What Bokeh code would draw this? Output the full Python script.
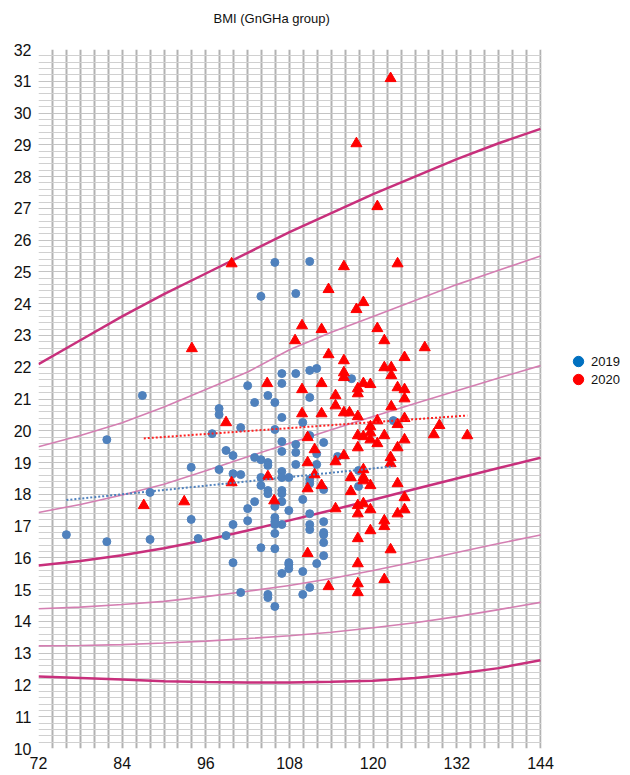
from bokeh.plotting import figure
from bokeh.models import Legend, LegendItem, FixedTicker, Range1d, BoxAnnotation, Title
from bokeh.embed import file_html
from bokeh.resources import INLINE

# reference curves (age in months, BMI)
curve_age = [72, 78, 84, 90, 96, 102, 108, 114, 120, 126, 132, 138, 144]
c_p1 = [22.1, 22.85, 23.6, 24.3, 24.95, 25.6, 26.25, 26.85, 27.45, 28.0, 28.55, 29.05, 29.5]
c_p2 = [19.5, 19.85, 20.25, 20.75, 21.3, 21.85, 22.55, 23.1, 23.6, 24.1, 24.6, 25.05, 25.5]
c_p3 = [17.43, 17.68, 17.98, 18.32, 18.74, 19.18, 19.61, 20.03, 20.45, 20.86, 21.26, 21.66, 22.05]
c_p4 = [15.76, 15.9, 16.08, 16.3, 16.56, 16.86, 17.18, 17.5, 17.83, 18.17, 18.5, 18.83, 19.15]
c_p5 = [14.4, 14.45, 14.53, 14.63, 14.78, 14.95, 15.13, 15.35, 15.6, 15.88, 16.17, 16.45, 16.72]
c_p6 = [13.23, 13.24, 13.27, 13.32, 13.38, 13.46, 13.55, 13.66, 13.8, 13.96, 14.15, 14.37, 14.6]
c_p7 = [12.27, 12.22, 12.17, 12.12, 12.09, 12.08, 12.08, 12.1, 12.13, 12.22, 12.35, 12.53, 12.78]

# 2019 group
age_2019 = [86.9, 81.8, 93.9, 88.0, 93.9, 76.0, 81.8, 88.0, 94.9,
            105.9, 110.9, 103.9, 108.9, 116.9, 110.9, 111.9, 106.9, 108.9, 106.9,
            102.0, 104.9, 110.9, 103.0, 105.9, 97.9, 97.9, 106.9, 109.9, 101.0,
            96.9, 105.9, 110.9, 112.9, 106.9, 108.9, 122.9,
            98.9, 99.9, 103.0, 103.9, 104.9, 104.9, 106.9, 108.9, 111.9, 114.9,
            111.9, 108.9, 106.9, 106.9, 103.9, 103.9, 107.9, 97.9, 99.9, 101.0,
            110.9, 110.9, 112.9, 104.9, 104.9, 106.9, 106.9, 109.9, 103.0, 102.0,
            106.9, 105.9, 107.9, 102.0, 99.9, 105.9, 105.9, 105.9, 106.9, 110.9,
            110.9, 110.9, 112.9, 112.9, 112.9, 112.9, 112.9, 98.9, 105.9, 103.9,
            105.9, 99.9, 107.9, 107.9, 107.9, 111.9, 109.9, 106.9, 101.0, 104.9,
            104.9, 105.9, 109.9, 110.9, 117.9, 117.9]
bmi_2019 = [21.11, 19.72, 18.85, 18.06, 17.21, 16.73, 16.51, 16.58, 16.61,
            25.30, 25.33, 24.23, 24.32, 21.64, 21.90, 21.96, 21.80, 21.80, 21.49,
            21.42, 21.11, 21.05, 20.89, 20.89, 20.70, 20.51, 20.42, 20.26, 20.10,
            19.91, 20.04, 19.85, 19.63, 19.66, 19.57, 20.32,
            19.38, 19.22, 19.16, 19.09, 19.00, 18.91, 19.35, 19.32, 19.28, 19.19,
            18.94, 18.94, 18.72, 18.53, 18.53, 18.28, 18.53, 18.78, 18.65, 18.62,
            18.47, 18.34, 18.15, 18.12, 18.02, 18.12, 18.02, 17.84, 17.77, 17.55,
            17.77, 17.62, 17.49, 17.17, 17.05, 17.27, 17.14, 17.05, 17.05, 17.39,
            17.05, 16.89, 17.14, 16.80, 16.73, 16.48, 16.07, 16.70, 16.77, 16.32,
            16.29, 15.85, 15.85, 15.79, 15.66, 15.82, 15.57, 15.51, 14.91, 14.85,
            14.75, 14.47, 14.85, 15.07, 18.75, 18.25]

# 2020 group
age_2020 = [122.5, 117.6, 120.6, 99.7, 94.0, 115.8, 113.6, 117.6, 109.8, 112.6,
            108.8, 113.6, 115.8, 115.8, 115.8, 117.8, 117.8, 104.8, 112.6, 109.8,
            114.6, 114.6, 109.8, 112.6, 115.8, 116.6, 117.8, 98.9, 110.6, 111.6,
            117.8, 117.8, 115.8,
            123.5, 118.6, 120.6, 121.6, 127.4, 124.5, 121.6, 122.6, 122.6, 118.6,
            119.6, 123.5, 124.5, 124.5, 122.6, 120.6, 124.5, 123.5, 129.5, 128.7,
            133.5, 119.6, 119.6, 118.6, 119.6, 121.6, 120.6, 124.5, 123.5, 122.5,
            99.7, 104.9, 105.8, 110.6, 114.6, 111.6, 110.6, 112.6, 116.8, 116.8,
            114.6, 117.8, 117.8, 117.8, 110.6, 117.8, 113.6, 117.8, 117.8,
            122.5, 118.6, 118.6, 118.6, 119.6, 123.5, 124.5, 124.5, 123.5, 118.6,
            119.6, 121.6, 121.6, 119.6, 122.5, 121.6, 87.1, 92.9]
bmi_2020 = [31.09, 29.04, 27.06, 25.26, 22.59, 25.17, 24.45, 23.82, 23.31, 23.19,
            22.84, 22.40, 22.21, 21.83, 21.68, 21.33, 21.17, 21.49, 21.49, 21.30,
            21.11, 20.79, 20.54, 20.54, 20.57, 20.57, 20.45, 20.26, 19.79, 19.41,
            19.85, 19.47, 19.22,
            25.26, 24.04, 23.22, 22.84, 22.62, 22.31, 21.99, 21.99, 21.74, 21.49,
            21.46, 21.36, 21.30, 21.01, 20.76, 20.32, 20.39, 20.20, 20.17, 19.88,
            19.85, 20.13, 19.94, 19.82, 19.72, 19.85, 19.60, 19.72, 19.47, 19.16,
            18.37, 18.56, 17.80, 19.00, 19.03, 18.62, 18.18, 18.28, 18.53, 18.09,
            17.55, 17.65, 17.39, 16.61, 16.14, 15.82, 15.10, 15.19, 14.91,
            18.97, 18.78, 18.53, 18.43, 18.28, 18.34, 17.90, 17.52, 17.39, 17.71,
            17.52, 17.17, 16.99, 16.86, 16.26, 15.32, 17.65, 17.77]

# linear trend lines (endpoints)
trend_2019_age = [76.0, 122.9]
trend_2019_bmi = [17.82, 18.88]
trend_2020_age = [87.1, 133.5]
trend_2020_bmi = [19.76, 20.48]

x_ticks = [72, 84, 96, 108, 120, 132, 144]
y_ticks = list(range(10, 33))
series_labels = ["2019", "2020"]
chart_title = "BMI (GnGHa group)"

FONT = "Liberation Sans"
NAN = float("nan")

# layout: chart area 502 px wide for 72..144 months; frame extended right to hold the legend
X0, X1 = 72, 144
CHART_W = 502
FRAME_W = 592
x_end = X1 + (FRAME_W - CHART_W) * (X1 - X0) / CHART_W

p = figure(frame_width=FRAME_W, frame_height=699, title=None,
           x_range=Range1d(X0, x_end), y_range=Range1d(10, 32),
           output_backend="svg", toolbar_location=None,
           min_border_left=38, min_border_right=0,
           min_border_top=49, min_border_bottom=26)
p.outline_line_color = None
p.background_fill_color = "white"
p.border_fill_color = "white"

# grids
p.xgrid.ticker = FixedTicker(ticks=list(range(X0, X1 + 1, 2)))
p.xgrid.grid_line_color = "#b2b2b2"
p.xgrid.grid_line_width = 2
minor_y = [10 + 0.2 * i for i in range(111)]
p.ygrid.ticker = FixedTicker(ticks=y_ticks, minor_ticks=minor_y)
p.ygrid.grid_line_color = "#c4c4c4"
p.ygrid.grid_line_width = 1
p.ygrid.minor_grid_line_color = "#d0d0d0"
p.ygrid.minor_grid_line_width = 1

# white mask over the grid right of the chart area (legend zone)
p.add_layout(BoxAnnotation(left=X1 + 0.15, fill_color="white", fill_alpha=1.0,
                           line_color=None, level="underlay"))

for ax in (p.xaxis, p.yaxis):
    ax.axis_line_color = None
    ax.major_tick_line_color = None
    ax.minor_tick_line_color = None
    ax.major_tick_out = 0
    ax.major_tick_in = 0
    ax.minor_tick_out = 0
    ax.minor_tick_in = 0
    ax.major_label_text_font = FONT
    ax.major_label_text_font_size = "16px"
    ax.major_label_text_color = "#111111"
p.xaxis.ticker = FixedTicker(ticks=x_ticks)
p.yaxis.ticker = FixedTicker(ticks=y_ticks)
p.xaxis.major_label_standoff = 8
p.yaxis.major_label_standoff = 7

# title: a blank spacer next to the frame, then the real title further up
spacer = Title(text=" ", text_font=FONT, text_font_size="13px", standoff=6)
main_title = Title(text=chart_title, text_font=FONT, text_font_size="13px",
                   text_font_style="normal", text_color="#111111",
                   align="left", offset=175, standoff=2)
p.add_layout(spacer, "above")
p.add_layout(main_title, "above")

# reference curves
thick = "#c8307c"
thin = "#d47fb2"
p.line(curve_age, c_p1, line_color=thick, line_width=2.5)
p.line(curve_age, c_p2, line_color=thin, line_width=1.6)
p.line(curve_age, c_p3, line_color=thin, line_width=1.6)
p.line(curve_age, c_p4, line_color=thick, line_width=2.5)
p.line(curve_age, c_p5, line_color=thin, line_width=1.6)
p.line(curve_age, c_p6, line_color=thin, line_width=1.6)
p.line(curve_age, c_p7, line_color=thick, line_width=2.5)

# points
p.scatter(age_2019, bmi_2019, marker="circle", size=8, fill_color="#4f81bd", line_color="#4f81bd")
p.scatter(age_2020, bmi_2020, marker="triangle", size=11, fill_color="#ff0000", line_color="#ff0000")

# trend lines
p.line(trend_2019_age, trend_2019_bmi, line_color="#4f81bd", line_width=2, line_dash="2 2")
p.line(trend_2020_age, trend_2020_bmi, line_color="#ff2020", line_width=2, line_dash="2 2")

# legend (proxy renderers with no visible points)
leg19 = p.scatter([NAN], [NAN], marker="circle", size=10, fill_color="#0070c0", line_color="#0070c0")
leg20 = p.scatter([NAN], [NAN], marker="circle", size=10, fill_color="#ff0000", line_color="#ff0000")
for lbl, rend, ypos in ((series_labels[0], leg19, 374), (series_labels[1], leg20, 356)):
    lg = Legend(items=[LegendItem(label=lbl, renderers=[rend])],
                location=(527, ypos), glyph_width=26, glyph_height=26, spacing=0,
                label_standoff=0, padding=0, margin=0, border_line_color=None,
                background_fill_alpha=0, label_text_font=FONT, label_text_font_size="13px",
                label_height=18, label_text_color="#111111")
    p.add_layout(lg, "center")

open("out.html", "w").write(file_html(p, INLINE))
